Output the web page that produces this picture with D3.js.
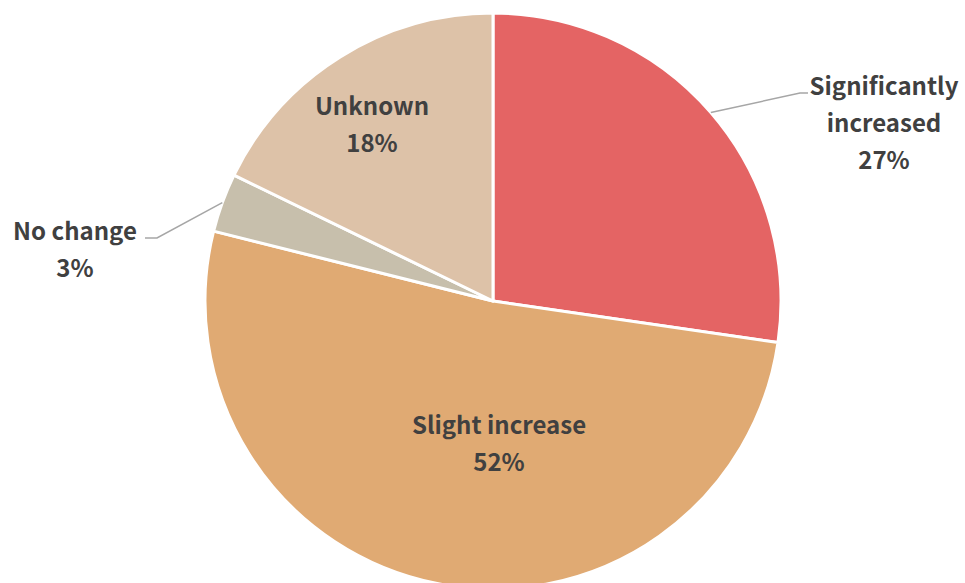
<!DOCTYPE html>
<html><head><meta charset="utf-8">
<script src="https://cdn.jsdelivr.net/npm/d3@7"></script>
<style>html,body{margin:0;padding:0;background:#fff;}svg{display:block;}</style>
</head><body>
<svg id="chart" width="965" height="583"></svg>
<script>
const categories = ["Significantly increased", "Slight increase", "No change", "Unknown"];
const values = [27.3, 51.6, 3.3, 17.8];
const pctLabels = ["27%", "52%", "3%", "18%"];
const colors = ["#E46464", "#E0AA73", "#C7BFAC", "#DDC2A8"];

const svg = d3.select("#chart");
const cx = 493, cy = 301, r = 288;
const g = svg.append("g").attr("transform", `translate(${cx},${cy})`);

const pie = d3.pie().sort(null).value(d => d.v);
const data = pie(categories.map((c, i) => ({c, v: values[i], p: pctLabels[i], col: colors[i]})));
const arc = d3.arc().innerRadius(0).outerRadius(r);

g.selectAll("path.slice").data(data).enter().append("path")
  .attr("class", "slice")
  .attr("d", arc)
  .attr("fill", d => d.data.col)
  .attr("stroke", "#fff").attr("stroke-width", 3).attr("stroke-linejoin", "round");

const font = "'Noto Sans CJK JP', 'Noto Sans', sans-serif";
const txtColor = "#404040";
const fs = 24;

const layout = [
  {outside: true, lines: ["Significantly", "increased"], x: 884 - cx, y: 95 - cy, elbow: [800 - cx, 93 - cy], end: [808 - cx, 93 - cy]},
  {outside: false, lines: ["Slight increase"], x: 499 - cx, y: 434 - cy},
  {outside: true, lines: ["No change"], x: 75 - cx, y: 240 - cy, elbow: [157 - cx, 238 - cy], end: [145 - cx, 238 - cy]},
  {outside: false, lines: ["Unknown"], x: 372 - cx, y: 115 - cy}
];
const lh = 37;

data.forEach((d, i) => {
  const L = layout[i];
  if (L.outside) {
    const mid = (d.startAngle + d.endAngle) / 2;
    const sx = Math.sin(mid) * r, sy = -Math.cos(mid) * r;
    g.append("polyline")
      .attr("points", [[sx, sy], L.elbow, L.end].map(p => p.join(",")).join(" "))
      .attr("fill", "none").attr("stroke", "#A6A6A6").attr("stroke-width", 1.5);
  }
  const t = g.append("text")
    .attr("text-anchor", "middle")
    .attr("font-family", font).attr("font-weight", "bold")
    .attr("font-size", fs).attr("fill", txtColor);
  const all = L.lines.concat([d.data.p]);
  all.forEach((s, k) => {
    t.append("tspan").attr("x", L.x).attr("y", L.y + k * lh).text(s);
  });
});
</script>
</body></html>
